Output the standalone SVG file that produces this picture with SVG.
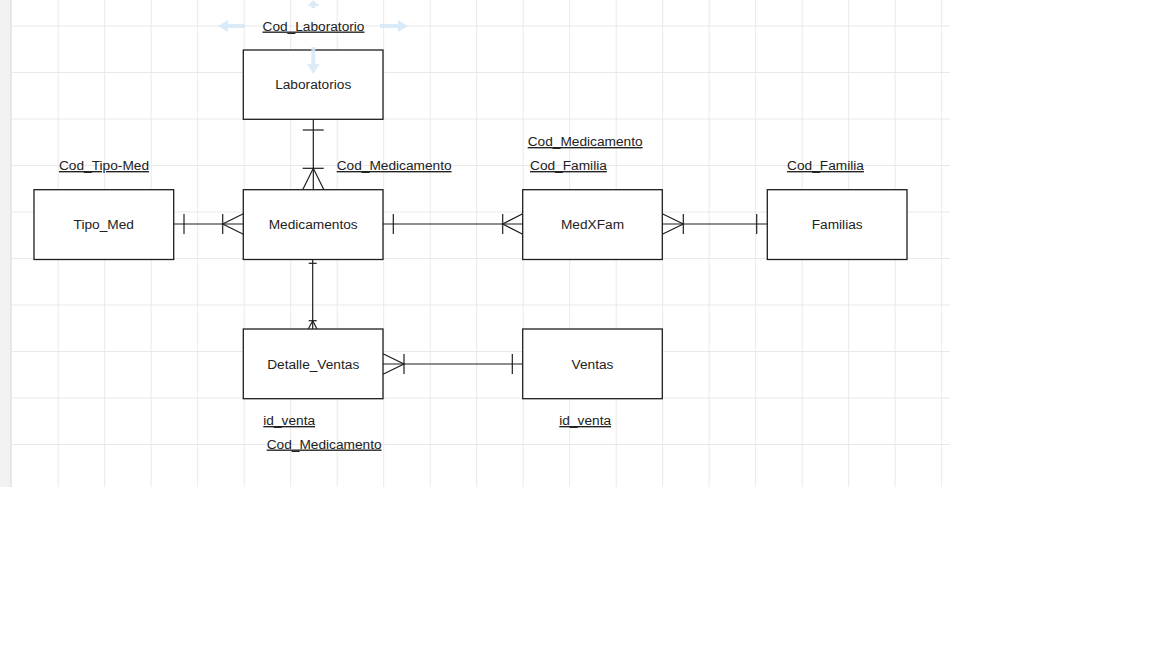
<svg xmlns="http://www.w3.org/2000/svg" width="1152" height="648" viewBox="0 0 1152 648">
<defs>
<style>
.grid line{stroke:#e9e9e9;stroke-width:1}
.box{fill:#ffffff;stroke:#1e1e1e;stroke-width:1.3}
.lbl{font-family:"Liberation Sans",Arial,sans-serif;font-size:13.7px;fill:#222;text-anchor:middle}
.key{font-family:"Liberation Sans",Arial,sans-serif;font-size:13.7px;fill:#222;text-decoration:underline}
.conn line,.conn polyline{stroke:#1e1e1e;stroke-width:1.2;fill:none}
.hint{fill:#d6e7f7;stroke:none;opacity:0.85}
</style>
</defs>
<rect x="0" y="0" width="1152" height="648" fill="#ffffff"/>
<rect x="0" y="0" width="10" height="487" fill="#f2f2f2"/>
<line x1="10.5" y1="0" x2="10.5" y2="487" stroke="#e2e2e2" stroke-width="1"/>
<g class="grid">
<line x1="11.7" y1="0" x2="11.7" y2="487"/>
<line x1="58.2" y1="0" x2="58.2" y2="487"/>
<line x1="104.7" y1="0" x2="104.7" y2="487"/>
<line x1="151.2" y1="0" x2="151.2" y2="487"/>
<line x1="197.7" y1="0" x2="197.7" y2="487"/>
<line x1="244.2" y1="0" x2="244.2" y2="487"/>
<line x1="290.7" y1="0" x2="290.7" y2="487"/>
<line x1="337.2" y1="0" x2="337.2" y2="487"/>
<line x1="383.7" y1="0" x2="383.7" y2="487"/>
<line x1="430.2" y1="0" x2="430.2" y2="487"/>
<line x1="476.7" y1="0" x2="476.7" y2="487"/>
<line x1="523.2" y1="0" x2="523.2" y2="487"/>
<line x1="569.7" y1="0" x2="569.7" y2="487"/>
<line x1="616.2" y1="0" x2="616.2" y2="487"/>
<line x1="662.7" y1="0" x2="662.7" y2="487"/>
<line x1="709.2" y1="0" x2="709.2" y2="487"/>
<line x1="755.7" y1="0" x2="755.7" y2="487"/>
<line x1="802.2" y1="0" x2="802.2" y2="487"/>
<line x1="848.7" y1="0" x2="848.7" y2="487"/>
<line x1="895.2" y1="0" x2="895.2" y2="487"/>
<line x1="941.7" y1="0" x2="941.7" y2="487"/>
<line x1="10" y1="26" x2="950" y2="26"/>
<line x1="10" y1="72.5" x2="950" y2="72.5"/>
<line x1="10" y1="119" x2="950" y2="119"/>
<line x1="10" y1="165.5" x2="950" y2="165.5"/>
<line x1="10" y1="212" x2="950" y2="212"/>
<line x1="10" y1="258.5" x2="950" y2="258.5"/>
<line x1="10" y1="305" x2="950" y2="305"/>
<line x1="10" y1="351.5" x2="950" y2="351.5"/>
<line x1="10" y1="398" x2="950" y2="398"/>
<line x1="10" y1="444.5" x2="950" y2="444.5"/>
</g>
<g id="connectors" class="conn">
<!-- Laboratorios - Medicamentos -->
<line x1="313.3" y1="119.3" x2="313.3" y2="189.7"/>
<line x1="302.7" y1="130" x2="323.7" y2="130"/>
<line x1="302.7" y1="168.3" x2="323.7" y2="168.3"/>
<polyline points="302.7,189.7 313.3,168.3 323.9,189.7"/>
<!-- Tipo_Med - Medicamentos -->
<line x1="173.7" y1="224" x2="243.3" y2="224"/>
<line x1="184" y1="214" x2="184" y2="234"/>
<line x1="222.7" y1="214" x2="222.7" y2="234"/>
<polyline points="243.3,213.7 222.7,224 243.3,234.3"/>
<!-- Medicamentos - MedXFam -->
<line x1="383" y1="224" x2="522.7" y2="224"/>
<line x1="393.3" y1="214" x2="393.3" y2="234"/>
<line x1="502.7" y1="214" x2="502.7" y2="234"/>
<polyline points="522.7,213.7 502.7,224 522.7,234.3"/>
<!-- MedXFam - Familias -->
<line x1="662.3" y1="224" x2="767.3" y2="224"/>
<line x1="683.3" y1="214" x2="683.3" y2="234"/>
<polyline points="662.3,213.7 683.3,224 662.3,234.3"/>
<line x1="756.7" y1="214" x2="756.7" y2="234"/>
<!-- Medicamentos - Detalle_Ventas -->
<line x1="312.7" y1="259.5" x2="312.7" y2="329"/>
<line x1="308.7" y1="263.3" x2="316.7" y2="263.3"/>
<line x1="308.7" y1="320.7" x2="316.7" y2="320.7"/>
<polyline points="308.3,329 312.7,320.7 317,329"/>
<!-- Detalle_Ventas - Ventas -->
<line x1="383" y1="364" x2="522.7" y2="364"/>
<polyline points="383,353.7 404,364 383,374.3"/>
<line x1="404" y1="354" x2="404" y2="374"/>
<line x1="512.3" y1="354" x2="512.3" y2="374"/>
</g>
<g id="laboratorios">
<rect class="box" x="243.3" y="50" width="139.7" height="69.3"/>
<text class="lbl" x="313.2" y="89">Laboratorios</text>
<text class="key" x="313.5" y="30.5" text-anchor="middle">Cod_Laboratorio</text>
</g>
<g id="tipo_med">
<rect class="box" x="34" y="189.7" width="139.7" height="69.8"/>
<text class="lbl" x="103.8" y="229">Tipo_Med</text>
<text class="key" x="104" y="170" text-anchor="middle">Cod_Tipo-Med</text>
</g>
<g id="medicamentos">
<rect class="box" x="243.3" y="189.7" width="139.7" height="69.8"/>
<text class="lbl" x="313.2" y="229">Medicamentos</text>
<text class="key" x="336.7" y="170">Cod_Medicamento</text>
</g>
<g id="medxfam">
<rect class="box" x="522.7" y="189.7" width="139.6" height="69.8"/>
<text class="lbl" x="592.5" y="229">MedXFam</text>
<text class="key" x="527.7" y="146">Cod_Medicamento</text>
<text class="key" x="530" y="170">Cod_Familia</text>
</g>
<g id="familias">
<rect class="box" x="767.3" y="189.7" width="139.7" height="69.8"/>
<text class="lbl" x="837.2" y="229">Familias</text>
<text class="key" x="825.5" y="170" text-anchor="middle">Cod_Familia</text>
</g>
<g id="detalle_ventas">
<rect class="box" x="243.3" y="329" width="139.7" height="69.7"/>
<text class="lbl" x="313.2" y="369">Detalle_Ventas</text>
<text class="key" x="263.3" y="425">id_venta</text>
<text class="key" x="266.7" y="448.5">Cod_Medicamento</text>
</g>
<g id="ventas">
<rect class="box" x="522.7" y="329" width="139.6" height="69.7"/>
<text class="lbl" x="592.5" y="369">Ventas</text>
<text class="key" x="559.3" y="425">id_venta</text>
</g>
<g id="hover-hints">
<polygon class="hint" points="218,26 228,20 228,24 245,24 245,28 228,28 228,32"/>
<polygon class="hint" points="408,26 398,20 398,24 380,24 380,28 398,28 398,32"/>
<polygon class="hint" points="313.3,74 307,64 311.3,64 311.3,47 315.3,47 315.3,64 319.6,64"/>
<polygon class="hint" points="313.3,0 307,6 311.3,6 311.3,8 315.3,8 315.3,6 319.6,6" opacity="0.5"/>
</g>
</svg>
